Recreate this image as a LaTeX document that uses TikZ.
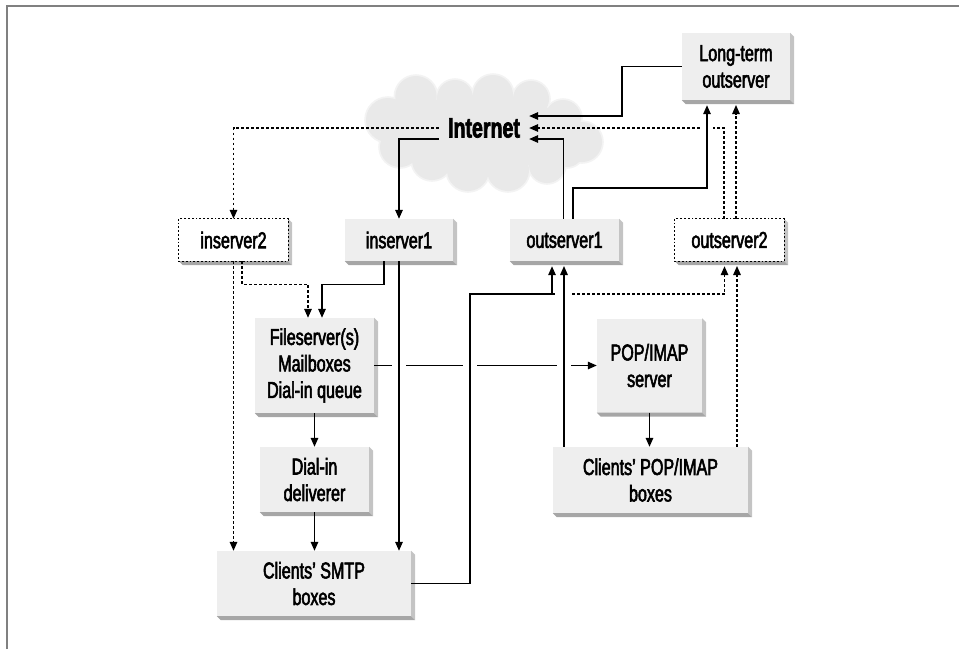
\documentclass[tikz,border=0pt]{standalone}
\usepackage{fontspec}
\setmainfont{Liberation Sans}[FakeStretch=0.74]
\newfontfamily\boxfont{Liberation Sans}[FakeStretch=0.70, FakeBold=2.4]
\newfontfamily\labelfont{Liberation Sans Bold}[FakeStretch=0.70, FakeBold=2.4]
\usetikzlibrary{arrows.meta,calc}
\definecolor{boxfill}{HTML}{EEEEEE}
\definecolor{shadeR}{HTML}{C4C4C4}
\definecolor{shadeB}{HTML}{A6A6A6}
\definecolor{cloudfill}{HTML}{E9E9E9}
\definecolor{cloudedge}{HTML}{F3F3F3}
\definecolor{framegray}{HTML}{808080}

% extruded shadow on the right and bottom edges of a box
\newcommand\dropshade[1]{%
  \fill[shadeR] (#1.north east) -- ++(4,4) -- ($(#1.south east)+(4,4)$) -- (#1.south east) -- cycle;
  \fill[shadeB] (#1.south west) -- (#1.south east) -- ($(#1.south east)+(4,4)$) -- ($(#1.south west)+(4,4)$) -- cycle;}

\begin{document}
\begin{tikzpicture}[x=1pt,y=-1pt,
  box/.style={fill=boxfill, inner sep=0pt, align=center, font=\boxfont\fontsize{23}{26.5}\selectfont},
  whitebox/.style={box, fill=white},
  dotborder/.style={draw=black, line width=1.3pt, dash pattern=on 1.8pt off 2pt},
  conn/.style={line width=1.4pt},
  tip/.style={-{Triangle[length=9pt,width=7.5pt]}},
  arr/.style={conn, tip},
  dotconn/.style={conn, dash pattern=on 2.5pt off 2.5pt},
  dotarr/.style={dotconn, tip},
  gap/.style={fill=white},
]
\useasboundingbox (0,0) rectangle (959,649);

% page frame (top and left rules)
\draw[framegray, line width=2pt] (7,649) -- (7,6) -- (959,6);

% cloud behind the Internet label
\foreach \cx/\cy/\r in {416/96.7/20.7, 455/98/18, 493/95/20, 531/99/18, 563/118/18,
    582/142/20, 567/150/17, 547/165/18, 508/170/21, 468/170/21, 432/160/20,
    400/147/20, 388/120/22}{
  \fill[cloudedge] (\cx,\cy) circle[radius=\r+1.8];
}
\fill[cloudedge] (480,133) ellipse[x radius=92, y radius=40];
\foreach \cx/\cy/\r in {416/96.7/20.7, 455/98/18, 493/95/20, 531/99/18, 563/118/18,
    582/142/20, 567/150/17, 547/165/18, 508/170/21, 468/170/21, 432/160/20,
    400/147/20, 388/120/22}{
  \fill[cloudfill] (\cx,\cy) circle[radius=\r];
}
\fill[cloudfill] (480,133) ellipse[x radius=90, y radius=38];

\node[font=\labelfont\fontsize{28}{30}\selectfont, inner xsep=9pt, inner ysep=2pt] (inet) at (484,128) {Internet};

% boxes
\node[box, minimum width=108pt, minimum height=67pt] (lt) at (736,66.5) {Long-term\\outserver};
\node[whitebox, minimum width=109pt, minimum height=42pt] (in2) at (233.5,240) {inserver2};
\node[box, minimum width=108pt, minimum height=42pt] (in1) at (399,240) {inserver1};
\node[box, minimum width=109pt, minimum height=42pt] (out1) at (564.5,240) {outserver1};
\node[whitebox, minimum width=109pt, minimum height=42pt] (out2) at (729.5,240) {outserver2};
\node[box, minimum width=119pt, minimum height=95pt] (fs) at (314.5,365.5) {Fileserver(s)\\Mailboxes\\Dial-in queue};
\node[box, minimum width=105pt, minimum height=94pt] (pop) at (649.5,365.5) {POP/IMAP\\server};
\node[box, minimum width=109pt, minimum height=65pt] (dial) at (314.5,479.5) {Dial-in\\deliverer};
\node[box, minimum width=195pt, minimum height=66pt] (popb) at (650.5,480) {Clients’ POP/IMAP\\boxes};
\node[box, minimum width=194pt, minimum height=65pt] (smtp) at (314,583.5) {Clients’ SMTP\\boxes};

\foreach \b in {lt,in2,in1,out1,out2,fs,pop,dial,popb,smtp}{\dropshade{\b}}
\draw[dotborder] (in2.north west) rectangle (in2.south east);
\draw[dotborder] (out2.north west) rectangle (out2.south east);

% connectors that get crossed by others
\draw[arr] (fs.east) -- (pop.west);
\draw[dotarr] (552,294) -- ([xshift=-5pt]out2.south |- 0,294) -- ([xshift=-5pt,yshift=-5pt]out2.south);
\draw[dotarr] ([xshift=-5.5pt]out2.north) |- (inet.east);

% gaps where lines pass over each other
\foreach \gx/\gy in {399/365.5, 470/365.5, 564/365.5, 564/294}{
  \fill[gap] (\gx-7,\gy-3) rectangle (\gx+7,\gy+3);
}
\fill[gap] (707-6,128-3) rectangle (707+6,128+3);

% Internet to the inservers
\draw[arr] ([yshift=-11pt]inet.west) -| (in1.north);
\draw[dotarr] (inet.west) -| (in2.north);

% inservers to fileserver and to client SMTP boxes
\draw[dotarr] ([xshift=8.5pt]in2.south) -- ++(0,23) -| ([xshift=-6.5pt]fs.north);
\draw[arr] ([xshift=-15pt]in1.south) -- ++(0,23) -| ([xshift=7.5pt]fs.north);
\draw[dotarr] (in2.south) -- (in2.south |- smtp.north);
\draw[arr] (in1.south) -- (in1.south |- smtp.north);

% local delivery chain
\draw[arr] (fs.south) -- (dial.north);
\draw[arr] (dial.south) -- (dial.south |- smtp.north);
\draw[arr] (pop.south) -- (pop.south |- popb.north);

% client boxes to the outservers
\draw[arr] (smtp.east) -| (470,294) -| ([xshift=-12.5pt,yshift=-5pt]out1.south);
\draw[arr] ([xshift=-86.5pt]popb.north) -- ([xshift=-86.5pt]popb.north |- 0,266);
\draw[dotarr] ([xshift=86.5pt]popb.north) -- ([xshift=86.5pt]popb.north |- 0,266);

% outservers to the Internet and to the long-term outserver
\draw[arr] ([xshift=-1pt]out1.north) |- ([yshift=-11pt]inet.east);
\draw[arr] ([xshift=8.5pt]out1.north) -- ++(0,-31) -| ([xshift=-29pt,yshift=-5pt]lt.south);
\draw[dotarr] ([xshift=6.5pt]out2.north) -- ([xshift=6.5pt]out2.north |- 0,105);
\draw[arr] (lt.west) -- ++(-60,0) |- ([yshift=12pt]inet.east);
\end{tikzpicture}
\end{document}
